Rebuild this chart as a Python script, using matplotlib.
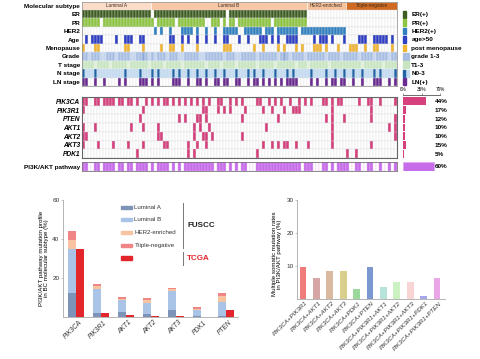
import matplotlib.pyplot as plt
from matplotlib.patches import Rectangle

plt.rcParams['font.family'] = ['Liberation Sans', 'DejaVu Sans']

W, H = 480, 359
N = 105  # patients (columns of the oncoprint)

# ---------------- oncoprint data ----------------
subtypes = ['Luminal A', 'Luminal B', 'HER2-enriched', 'Triple-negative']
subtype_start = [0, 23, 75, 88]
subtype_stop = [23, 75, 88, 105]
subtype_colors = ['#fbdcc8', '#f7c7a6', '#f6c29c', '#cf6a20']

er_pos = list(range(0, 23)) + list(range(24, 48)) + list(range(49, 75))
pr_gaps = [6, 24, 31, 41, 42, 46, 48, 51, 63]
pr_pos = [c for c in range(75) if c not in pr_gaps]
her2_pos = [24, 26, 29, 33, 34, 35, 36, 38, 41, 44, 47, 48, 49, 50, 51, 54, 55, 56,
            57, 58, 59, 61, 62, 63, 65, 66, 67, 68, 69, 70, 71, 73, 74] + list(range(75, 88))
age_pos = [1, 3, 4, 5, 6, 11, 14, 15, 16, 19, 20, 29, 30, 33, 35, 38, 41, 44, 47, 48,
           52, 55, 59, 60, 61, 63, 65, 68, 69, 70, 71, 77, 79, 80, 81, 83, 87, 92, 93,
           94, 97, 98, 99, 100, 101, 103]
meno_pos = [0, 4, 5, 14, 15, 20, 26, 29, 30, 33, 38, 47, 48, 49, 57, 60, 65, 67, 71,
            73, 77, 78, 79, 81, 85, 89, 90, 91, 94, 97, 98, 103]
grade = ("221222112221222" "211223212122212" "221122222112222" "221222112222212"
         "222221232122221" "222222122221222" "221222212222122")
tstage = ("222212222122222" "122222212222122" "222122222221222" "212222122222212"
          "222212222221222" "122222212222222" "222122222212222")
nstage_pos = [0, 4, 14, 19, 23, 25, 30, 32, 35, 38, 41, 44, 47, 51, 55, 57, 60, 64,
              68, 70, 76, 81, 84, 87, 90, 93, 97, 99, 104]
ln_pos = [0, 1, 4, 7, 12, 14, 19, 20, 21, 23, 25, 30, 31, 32, 35, 38, 39, 41, 44, 45,
          47, 48, 51, 52, 55, 57, 58, 60, 62, 64, 66, 68, 69, 70, 71, 76, 78, 81, 83,
          84, 86, 87, 90, 93, 97, 98, 99, 102, 104]

mut_genes = ['PIK3CA', 'PIK3R1', 'PTEN', 'AKT1', 'AKT2', 'AKT3', 'PDK1']
pik3ca = [0, 1, 4, 5, 7, 8, 9, 10, 12, 13, 15, 16, 18, 21, 23, 25, 27, 28, 30, 32, 34,
          36, 38, 40, 42, 45, 46, 49, 51, 53, 58, 59, 62, 64, 66, 69, 72, 74, 76, 80,
          81, 83, 85, 86, 92, 95, 96, 99, 104]
pik3r1 = [0, 20, 40, 41, 45, 47, 49, 54, 60, 63, 67, 70, 71, 72, 83, 96]
pten = [19, 32, 34, 38, 39, 41, 53, 65, 81, 83, 87, 96, 104]
akt1 = [0, 4, 16, 20, 25, 37, 39, 42, 61, 83, 102, 104]
akt2 = [0, 1, 25, 26, 37, 40, 41, 43, 53, 83, 104]
akt3 = [0, 5, 10, 15, 20, 27, 28, 35, 38, 41, 60, 63, 65, 67, 68, 71, 75, 83, 96]
pdk1 = [18, 35, 37, 58, 88, 91]
mut_lists = [pik3ca, pik3r1, pten, akt1, akt2, akt3, pdk1]

freq_bar = [44, 6, 4, 3, 3, 6, 1.5]
freq_labels = ['44%', '17%', '12%', '10%', '10%', '15%', '5%']
pathway_bar = 58
pathway_label = '60%'

# ---------------- bar chart data ----------------
genes = ['PIK3CA', 'PIK3R1', 'AKT1', 'AKT2', 'AKT3', 'PDK1', 'PTEN']
lum_a = [12.3, 2.2, 2.7, 1.5, 3.6, 0.5, 0.5]
lum_b = [22.4, 12.2, 6.0, 5.5, 9.9, 3.0, 7.3]
her2_enr = [4.8, 1.5, 0.5, 1.7, 0.7, 0.5, 3.0]
triple_neg = [4.6, 1.0, 0.9, 1.3, 0.8, 1.0, 1.4]
tcga = [34.7, 2.2, 0.9, 0.3, 0.3, 0.0, 3.8]

combos = ['PIK3CA+PIK3R1', 'PIK3CA+AKT1', 'PIK3CA+AKT2', 'PIK3CA+AKT3', 'PIK3CA+PDK1',
          'PIK3CA+PTEN', 'PIK3CA+PIK3R1+AKT1', 'PIK3CA+PIK3R1+AKT2',
          'PIK3CA+PIK3R1+AKT3', 'PIK3CA+PIK3R1+PDK1', 'PIK3CA+PIK3R1+PTEN']
combo_rates = [9.6, 6.1, 8.3, 8.3, 2.8, 9.6, 3.6, 4.9, 4.9, 0.8, 6.1]
combo_colors = ['#f07b7b', '#d6a6a6', '#d9b9a0', '#d8cf8e', '#9bd89b', '#7b97cf',
                '#b6e3da', '#ccf1c3', '#f8d4d4', '#a6a6e8', '#eaa6e6']

fig = plt.figure(figsize=(W / 100, H / 100), dpi=100)


def ax_px(x0, y0, x1, y1):
    return fig.add_axes([x0 / W, 1 - y1 / H, (x1 - x0) / W, (y1 - y0) / H])


def row_colors(pos, color):
    cols = ['white'] * N
    for p in pos:
        cols[p] = color
    return cols


def draw_row(ax, row, cols, edge='#dcdcdc'):
    ax.bar(range(N), 1, width=1, bottom=row, align='edge', color=cols,
           edgecolor=edge, linewidth=0.25)


lab_font = dict(fontsize=4.6, fontweight='bold')

# ---------------- clinical annotation ----------------
ax = ax_px(82, 1.5, 397, 86)
for name, s, e, c in zip(subtypes, subtype_start, subtype_stop, subtype_colors):
    ax.bar(s, 1, width=e - s, bottom=0, align='edge', color=c, edgecolor='white', linewidth=0.4)
    ax.text((s + e) / 2, 0.5, name, ha='center', va='center', fontsize=3.4, color='#3a2a20')

draw_row(ax, 1, row_colors(er_pos, '#3e5d21'))
draw_row(ax, 2, row_colors(pr_pos, '#8dc540'))
draw_row(ax, 3, row_colors(her2_pos, '#2f7fc1'))
draw_row(ax, 4, row_colors(age_pos, '#2e3fc3'))
draw_row(ax, 5, row_colors(meno_pos, '#f1b532'))
grade_cmap = {'1': '#c6d5ee', '2': '#a7bde1', '3': '#8ea8d6'}
draw_row(ax, 6, [grade_cmap[g] for g in grade], edge='#e8eef8')
t_cmap = {'1': '#e0f0dc', '2': '#c8e4c1'}
draw_row(ax, 7, [t_cmap[t] for t in tstage], edge='#eef6ec')
draw_row(ax, 8, row_colors(nstage_pos, '#2163a3'), edge='#e2ecf6')
ax.bar([c for c in range(N) if c not in nstage_pos], 1, width=1, bottom=8, align='edge',
       color='#c4dbef', edgecolor='#e2ecf6', linewidth=0.25)
draw_row(ax, 9, row_colors(ln_pos, '#6a2b90'))

ax.set_xlim(0, N)
ax.set_ylim(10, 0)
ax.set_xticks([])
row_names = ['Molecular subtype', 'ER', 'PR', 'HER2', 'Age', 'Menopause', 'Grade',
             'T stage', 'N stage', 'LN stage']
ax.set_yticks([r + 0.5 for r in range(10)])
ax.set_yticklabels(row_names, **lab_font)
ax.tick_params(axis='y', length=0, pad=1.5)
for sp in ax.spines.values():
    sp.set_color('#888888')
    sp.set_linewidth(0.5)

# legend of clinical rows
leg_names = ['ER(+)', 'PR(+)', 'HER2(+)', 'age>50', 'post menopause', 'grade 1-3',
             'T1-3', 'N0-3', 'LN(+)']
leg_colors = ['#3e5d21', '#8dc540', '#2f7fc1', '#2e3fc3', '#f1b532', '#a7bde1',
              '#c8e4c1', '#c4dbef', '#6a2b90']
for i, (nm, c) in enumerate(zip(leg_names, leg_colors)):
    r = i + 1
    w = 2.0 if i in (5, 6, 7) else 1.0
    ax.add_patch(Rectangle((107, r + 0.1), w, 0.8, color=c, clip_on=False))
    if i == 7:
        ax.add_patch(Rectangle((107, r + 0.1), 0.6, 0.8, color='#2163a3', clip_on=False))
    ax.text(109.8, r + 0.55, nm, ha='left', va='center', clip_on=False, **lab_font)

# ---------------- mutation rows ----------------
axm = ax_px(82, 97, 397, 158)
for r, pos in enumerate(mut_lists):
    draw_row(axm, r, row_colors(pos, '#d6407c'))
axm.set_xlim(0, N)
axm.set_ylim(7, 0)
axm.set_xticks([])
axm.set_yticks([r + 0.5 for r in range(7)])
axm.set_yticklabels(mut_genes, fontsize=4.8, fontweight='bold', style='italic')
axm.tick_params(axis='y', length=0, pad=1.5)
for sp in axm.spines.values():
    sp.set_color('#666666')
    sp.set_linewidth(0.8)

# pathway row (patients with any alteration)
altered = sorted(set().union(*mut_lists))
axp = ax_px(82, 162, 397, 171)
axp.bar(range(N), 1, width=1, bottom=0, align='edge',
        color=row_colors(altered, '#c86dea'), edgecolor='#e3b6f3', linewidth=0.25)
axp.set_xlim(0, N)
axp.set_ylim(1, 0)
axp.set_xticks([])
axp.set_yticks([0.5])
axp.set_yticklabels(['PI3K/AKT pathway'], **lab_font)
axp.tick_params(axis='y', length=0, pad=1.5)
for sp in axp.spines.values():
    sp.set_color('#777777')
    sp.set_linewidth(0.6)

# frequency bars on the right
axf = ax_px(403, 97, 440, 171)
axf.barh([r + 0.5 for r in range(7)], freq_bar, height=0.9, color='#d6407c')
axf.barh([7.98], [pathway_bar], height=1.0, color='#c86dea', edgecolor='#e0a6f6', linewidth=0.6)
for r, t in enumerate(freq_labels):
    axf.text(60, r + 0.55, t, ha='left', va='center', clip_on=False, **lab_font)
axf.text(60, 8.0, pathway_label, ha='left', va='center', clip_on=False, **lab_font)
axf.set_xlim(0, 70)
axf.set_ylim(8.5, 0)
axf.set_yticks([])
axf.set_xticks([0, 35, 70])
axf.set_xticklabels(['0%', '35%', '70%'])
axf.xaxis.tick_top()
axf.tick_params(axis='x', labelsize=3.4, length=1.5, width=0.4, pad=0.8, color='#555555')
for k in ['bottom', 'left', 'right']:
    axf.spines[k].set_visible(False)
axf.spines['top'].set_linewidth(0.4)
axf.spines['top'].set_position(('outward', 1.2))
axf.patch.set_alpha(0)


def style_bar_axis(a):
    for k in ['top', 'right']:
        a.spines[k].set_visible(False)
    for k in ['left', 'bottom']:
        a.spines[k].set_color('#aaaaaa')
        a.spines[k].set_linewidth(0.6)
    a.tick_params(axis='y', labelsize=4.6, length=1.5, width=0.4, color='#999999',
                  labelcolor='#333333', pad=1)
    a.tick_params(axis='x', length=0, pad=1.5, labelcolor='#333333')


# ---------------- bottom left: subtype mutation profile ----------------
axb = ax_px(63, 200, 238, 317)
x = list(range(len(genes)))
xs = [i - 0.16 for i in x]
xt = [i + 0.16 for i in x]
bottom = [0.0] * len(genes)
stack_colors = ['#7e93b8', '#a9c4e6', '#f8c3a0', '#ef8585']
for vals, c in zip([lum_a, lum_b, her2_enr, triple_neg], stack_colors):
    axb.bar(xs, vals, width=0.31, bottom=bottom, color=c)
    bottom = [b + v for b, v in zip(bottom, vals)]
axb.bar(xt, tcga, width=0.29, color='#e3262c')
axb.set_xlim(-0.52, 6.48)
axb.set_ylim(0, 60)
axb.set_yticks([20, 40, 60])
axb.set_xticks([i + 0.1 for i in x])
axb.set_xticklabels(genes, rotation=45, ha='right', rotation_mode='anchor',
                    fontsize=4.8, style='italic')
style_bar_axis(axb)
fig.text(44 / W, 1 - 258 / H, 'PI3K/AKT pathway mutation profile\nin BC molecular subtype (%)',
         rotation=90, ha='center', va='center', fontsize=4.4, linespacing=1.1)

leg_labels = ['Luminal A', 'Luminal B', 'HER2-enriched', 'Triple-negative']
leg_y = [207.7, 219.5, 232.5, 245.5]
for lbl, yy, c in zip(leg_labels, leg_y, stack_colors):
    fig.add_artist(Rectangle((121 / W, 1 - (yy + 1.7) / H), 10.5 / W, 3.4 / H,
                             color=c, transform=fig.transFigure))
    fig.text(134.5 / W, 1 - yy / H, lbl, ha='left', va='center', fontsize=4.4, color='#333333')
fig.add_artist(Rectangle((121 / W, 1 - 260 / H), 10.5 / W, 4.4 / H, color='#e3262c',
                         transform=fig.transFigure))
fig.add_artist(plt.Line2D([183.3 / W, 183.3 / W], [1 - 203 / H, 1 - 248 / H],
                          color='#777777', lw=0.7, transform=fig.transFigure))
fig.add_artist(plt.Line2D([183.3 / W, 183.3 / W], [1 - 252 / H, 1 - 265 / H],
                          color='#777777', lw=0.7, transform=fig.transFigure))
fig.text(187 / W, 1 - 225.5 / H, 'FUSCC', ha='left', va='center', fontsize=5.8,
         fontweight='bold', color='#222222')
fig.text(187 / W, 1 - 258.5 / H, 'TCGA', ha='left', va='center', fontsize=5.8,
         fontweight='bold', color='#e3262c')

# ---------------- bottom right: multiple mutation rates ----------------
axc = ax_px(297, 200, 445, 298.5)
xc = list(range(len(combos)))
axc.bar(xc, combo_rates, width=0.5, color=combo_colors)
axc.set_xlim(-0.45, 10.6)
axc.set_ylim(0, 30)
axc.set_yticks([10, 20, 30])
axc.set_xticks([i + 0.15 for i in xc])
axc.set_xticklabels(combos, rotation=45, ha='right', rotation_mode='anchor',
                    fontsize=4.4, style='italic')
style_bar_axis(axc)
fig.text(277 / W, 1 - 254 / H, 'Multiple somatic mutation rates\nin PI3K/AKT pathway (%)',
         rotation=90, ha='center', va='center', fontsize=4.4, linespacing=1.1)

fig.savefig('out.png', dpi=100)
